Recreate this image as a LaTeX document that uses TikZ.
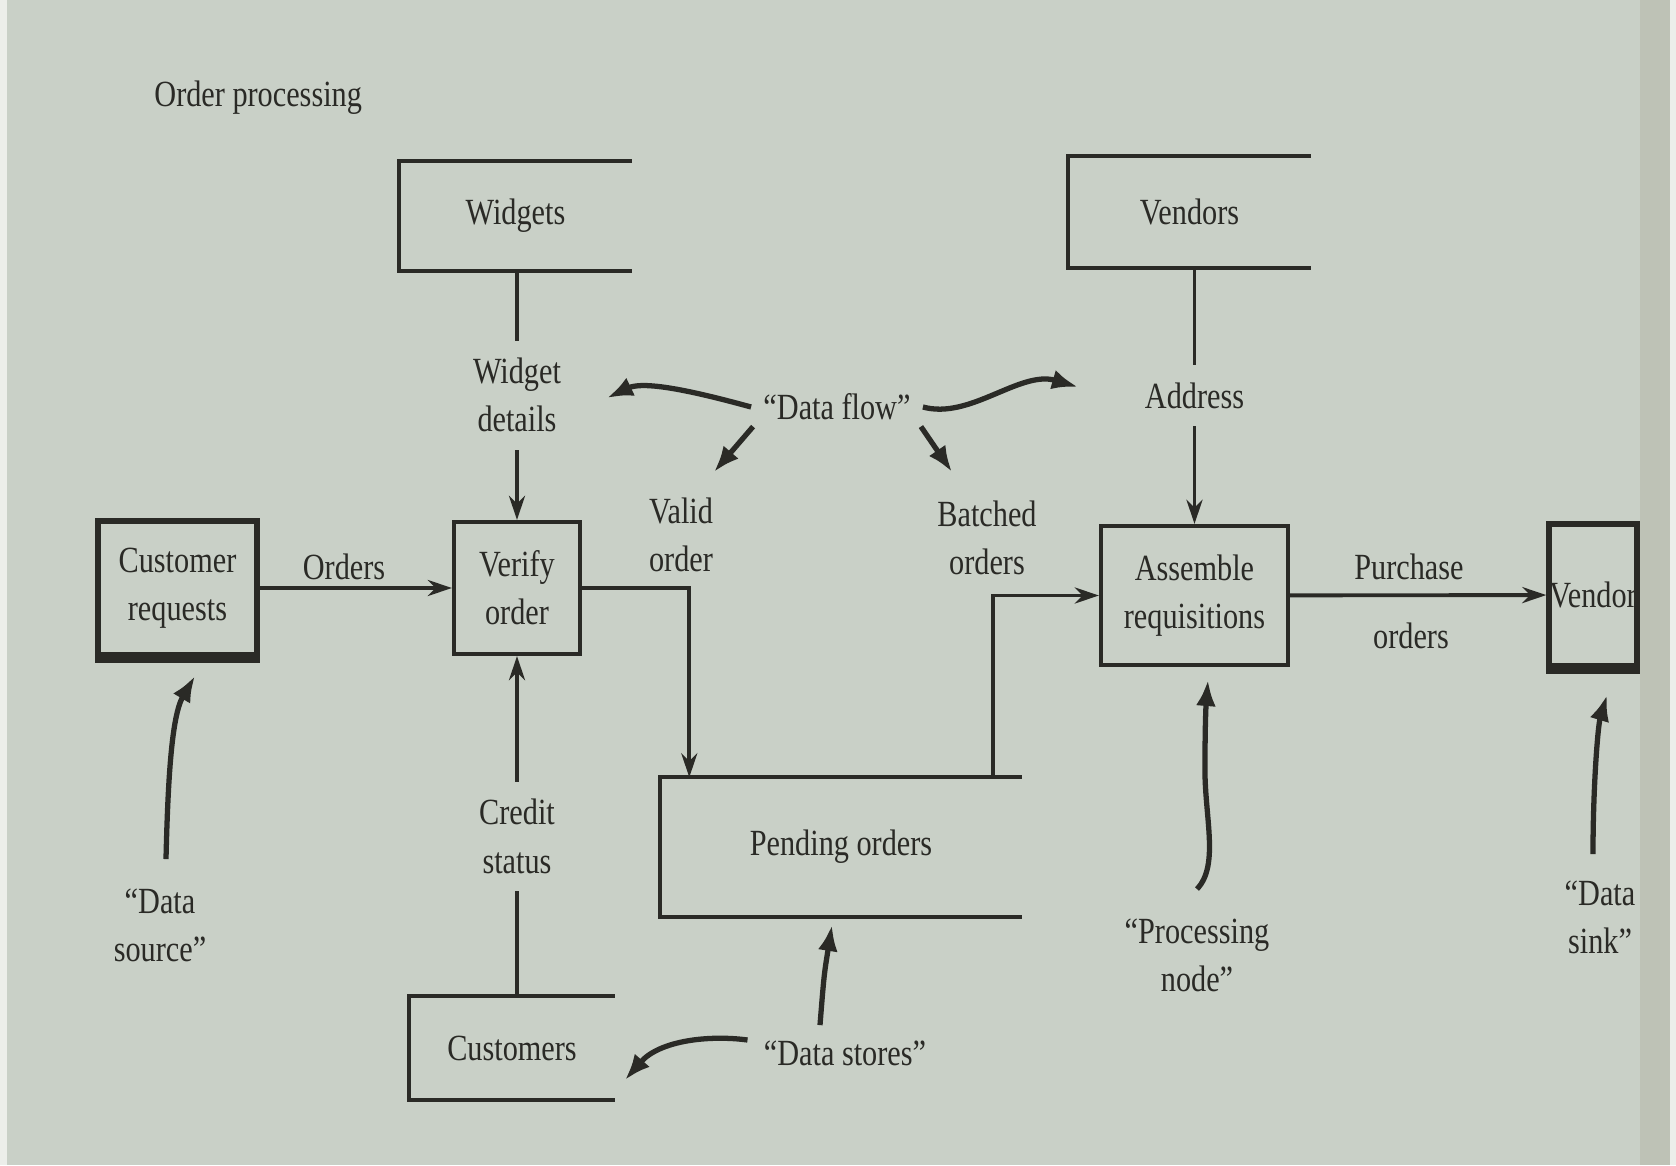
\documentclass[tikz,border=0pt]{standalone}
\usepackage{fontspec}
\setmainfont{Liberation Serif}[FakeStretch=0.82]
\usetikzlibrary{positioning, calc, arrows.meta}

\definecolor{paper}{RGB}{201,208,199}
\definecolor{paperedge}{RGB}{190,194,182}
\definecolor{margin}{RGB}{236,238,234}
\definecolor{ink}{RGB}{42,42,38}

\tikzset{
  every node/.style={text=ink, font=\fontsize{10.5}{13.7}\selectfont},
  process/.style={draw=ink, line width=1.2pt, align=center, inner sep=0pt},
  terminal/.style={draw=ink, line width=1.7pt, align=center, inner sep=0pt},
  store/.style={align=center, inner sep=0pt},
  storeline/.style={draw=ink, line width=1.2pt},
  flow/.style={draw=ink, line width=1.1pt, -{Stealth[length=2.4mm,width=1.6mm]}},
  note/.style={draw=ink, line width=1.5pt, -{Latex[length=2.6mm,width=2mm]}},
  lbl/.style={align=center, fill=paper, inner xsep=2pt, inner ysep=5pt}
}

\begin{document}
\begin{tikzpicture}
  \fill[paper] (0,0) rectangle (16.76,11.65);
  \fill[paperedge] (16.40,0) rectangle (16.70,11.65);
  \fill[margin] (16.70,0) rectangle (16.76,11.65);
  \fill[margin] (0,0) rectangle (0.07,11.65);
  \useasboundingbox (0,0) rectangle (16.76,11.65);

  \node[anchor=west] (title) at (1.42,10.67) {Order processing};

  % data stores
  \node[store, minimum width=2.31cm, minimum height=1.08cm] (widgets) at (5.155,9.49) {Widgets};
  \node[store, minimum width=2.41cm, minimum height=1.10cm] (vendors) at (11.895,9.53) {Vendors};
  \node[store, minimum width=3.60cm, minimum height=1.38cm] (pending) at (8.41,3.18) {Pending orders};
  \node[store, minimum width=2.04cm, minimum height=1.02cm] (customers) at (5.12,1.17) {Customers};
  \foreach \s in {widgets,vendors,pending,customers}
    \draw[storeline] (\s.north east) -- (\s.north west) -- (\s.south west) -- (\s.south east);

  % processes, source and sink
  \node[process, minimum width=1.26cm, minimum height=1.32cm] (verify) at (5.17,5.77) {Verify\\order};
  \node[process, minimum width=1.87cm, minimum height=1.39cm] (assemble) at (11.945,5.695) {Assemble\\requisitions};
  \node[terminal, minimum width=1.59cm, minimum height=1.34cm] (custreq) at (1.775,5.77) {Customer\\requests};
  \node[terminal, minimum width=0.86cm, minimum height=1.42cm] (vendor) at (15.93,5.70) {Vendor};
  \foreach \t in {custreq,vendor}
    \draw[ink, line width=2.8pt] (\t.south west) -- (\t.south east);

  % flows
  \draw[flow] (custreq) -- (verify);
  \draw[flow] (widgets.south -| verify.north) -- node[lbl] (wdlbl) {Widget\\details} (verify.north);
  \draw[flow] (customers.north -| verify.south) -- node[lbl, pos=0.47] (crlbl) {Credit\\status} (verify.south);
  \draw[flow] (verify.east) -| ($(pending.north west)+(0.29,0)$);
  \draw[flow] ($(pending.north east)+(-0.29,0)$) |- (assemble.west);
  \draw[flow] (vendors.south -| assemble.north) -- node[lbl] (adlbl) {Address} (assemble.north);
  \draw[flow] (assemble) -- (vendor);

  \node (orderslbl) at (3.44,5.98) {Orders};
  \node[align=center] (validlbl) at (6.81,6.30) {Valid\\order};
  \node[align=center] (batchlbl) at (9.87,6.27) {Batched\\orders};
  \node (purchlbl) at (14.09,5.98) {Purchase};
  \node (purch2lbl) at (14.11,5.29) {orders};

  % annotations
  \node (dflow) at (8.37,7.58) {``Data flow''};
  \node[align=center] (dsrc) at (1.60,2.40) {``Data\\source''};
  \node[align=center] (pnode) at (11.97,2.10) {``Processing\\node''};
  \node[align=center] (dsink) at (16.00,2.48) {``Data\\sink''};
  \node (dstore) at (8.45,1.12) {``Data stores''};

  \coordinate (tipA) at (6.07,7.67);
  \coordinate (tipB) at (10.78,7.78);
  \coordinate (tipC) at (7.14,6.93);
  \coordinate (tipD) at (9.52,6.93);
  \coordinate (tipE) at (1.95,4.89);
  \coordinate (tipF) at (12.08,4.85);
  \coordinate (tipG) at (16.07,4.70);
  \coordinate (tipH) at (6.25,0.85);
  \coordinate (tipI) at (8.32,2.40);

  \draw[note] (dflow.west) .. controls (7.0,7.72) and (6.45,7.85) .. (tipA);
  \draw[note] (dflow.east) .. controls (9.7,7.45) and (10.2,7.95) .. (tipB);
  \draw[note] ($(dflow.south west)+(0.02,0.06)$) -- (tipC);
  \draw[note] ($(dflow.south east)+(-0.02,0.06)$) -- (tipD);
  \draw[note] ($(dsrc.north)+(0.06,0.17)$) .. controls (1.68,3.9) and (1.72,4.5) .. (tipE);
  \draw[note] ($(pnode.north)+(0,0.17)$) .. controls (12.2,3.0) and (12.04,3.5) .. (12.05,4.0)
    .. controls (12.05,4.4) and (12.06,4.6) .. (tipF);
  \draw[note] ($(dsink.north)+(-0.07,0.14)$) .. controls (15.93,3.8) and (15.98,4.4) .. (tipG);
  \draw[note] ($(dstore.west)+(-0.04,0.13)$) .. controls (7.1,1.30) and (6.6,1.25) .. (tipH);
  \draw[note] ($(dstore.north)+(-0.25,0.03)$) .. controls (8.24,1.9) .. (tipI);
\end{tikzpicture}
\end{document}
